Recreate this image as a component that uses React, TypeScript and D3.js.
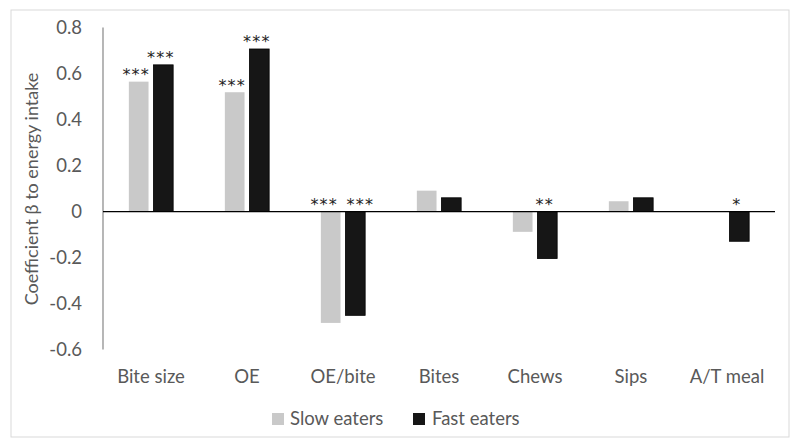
import React from 'react';
import { scaleBand, scaleLinear } from 'd3';

const categories = ['Bite size', 'OE', 'OE/bite', 'Bites', 'Chews', 'Sips', 'A/T meal'];
const slowEaters = [0.565, 0.519, -0.484, 0.091, -0.088, 0.045, 0];
const fastEaters = [0.638, 0.707, -0.451, 0.06, -0.204, 0.06, -0.129];
const slowSig = ['***', '***', '***', '', '', '', ''];
const fastSig = ['***', '***', '***', '', '**', '', '*'];
const yTicks = [0.8, 0.6, 0.4, 0.2, 0, -0.2, -0.4, -0.6];

const W = 800;
const H = 448;
const left = 103;
const right = 775;
const top = 27.6;
const bottom = 349.6;
const font = 'Lato, "Open Sans", sans-serif';
const textColor = '#595959';
const fs = 18.5;

function App() {
  const x = scaleBand<string>().domain(categories).range([left, right]);
  const inner = scaleBand<string>()
    .domain(['slow', 'fast'])
    .range([0, x.bandwidth()])
    .paddingInner(0.2)
    .paddingOuter(1.05);
  const y = scaleLinear().domain([-0.6, 0.8]).range([bottom, top]);
  const y0 = y(0);

  const series = [
    { key: 'slow', values: slowEaters, sig: slowSig, fill: '#c9c9c9', stroke: 'none' },
    { key: 'fast', values: fastEaters, sig: fastSig, fill: '#161616', stroke: '#000' },
  ];

  return (
    <svg width={W} height={H} style={{ position: 'absolute', left: 0, top: 0 }} fontFamily={font}>
      <rect x={0} y={0} width={W} height={H} fill="#fff" />
      <rect x={11} y={10} width={778} height={427} fill="none" stroke="#d9d9d9" strokeWidth={1} />

      {yTicks.map((t) => (
        <text key={t} x={82} y={y(t)} dy="0.35em" textAnchor="end" fontSize={fs} fill={textColor}>
          {t === 0 ? '0' : t.toFixed(1)}
        </text>
      ))}
      <line x1={left} x2={left} y1={top} y2={bottom} stroke="#868686" strokeWidth={1.2} />

      <text
        transform={`translate(32,189) rotate(-90)`}
        textAnchor="middle"
        dy="0.35em"
        fontSize={18}
        fill={textColor}
      >
        Coefficient β to energy intake
      </text>

      {series.map((s) =>
        categories.map((c, i) => {
          const v = s.values[i];
          const bx = (x(c) as number) + (inner(s.key) as number);
          const bw = inner.bandwidth();
          const yTop = Math.min(y(v), y0);
          const h = Math.abs(y(v) - y0);
          const labelY = (v > 0 ? y(v) : y0) - 1.5;
          // both labels sitting on the zero line: push them apart
          const crowded =
            slowSig[i] && fastSig[i] && slowEaters[i] <= 0 && fastEaters[i] <= 0;
          const dx = crowded ? (s.key === 'slow' ? -7 : 4.5) : -3;
          return (
            <g key={s.key + c}>
              {h > 0 && (
                <rect x={bx} y={yTop} width={bw} height={h} fill={s.fill} stroke={s.stroke} strokeWidth={0.8} />
              )}
              {s.sig[i] && (
                <text
                  x={bx + bw / 2 + 0.5 + dx}
                  y={labelY}
                  textAnchor="middle"
                  fontSize={16}
                  letterSpacing={1.2}
                  fill="#222"
                  fontFamily='"DejaVu Sans", sans-serif'
                >
                  {s.sig[i]}
                </text>
              )}
            </g>
          );
        })
      )}

      <line x1={left} x2={right} y1={y0} y2={y0} stroke="#000" strokeWidth={1.3} />

      {categories.map((c) => (
        <text
          key={c}
          x={(x(c) as number) + x.bandwidth() / 2}
          y={377}
          dy="0.35em"
          textAnchor="middle"
          fontSize={fs}
          fill={textColor}
        >
          {c}
        </text>
      ))}

      <rect x={272} y={413} width={12} height={12} fill="#c9c9c9" />
      <text x={290} y={419} dy="0.35em" fontSize={fs} fill={textColor}>
        Slow eaters
      </text>
      <rect x={413} y={413} width={12} height={12} fill="#161616" />
      <text x={432} y={419} dy="0.35em" fontSize={fs} fill={textColor}>
        Fast eaters
      </text>
    </svg>
  );
}

export default App;
